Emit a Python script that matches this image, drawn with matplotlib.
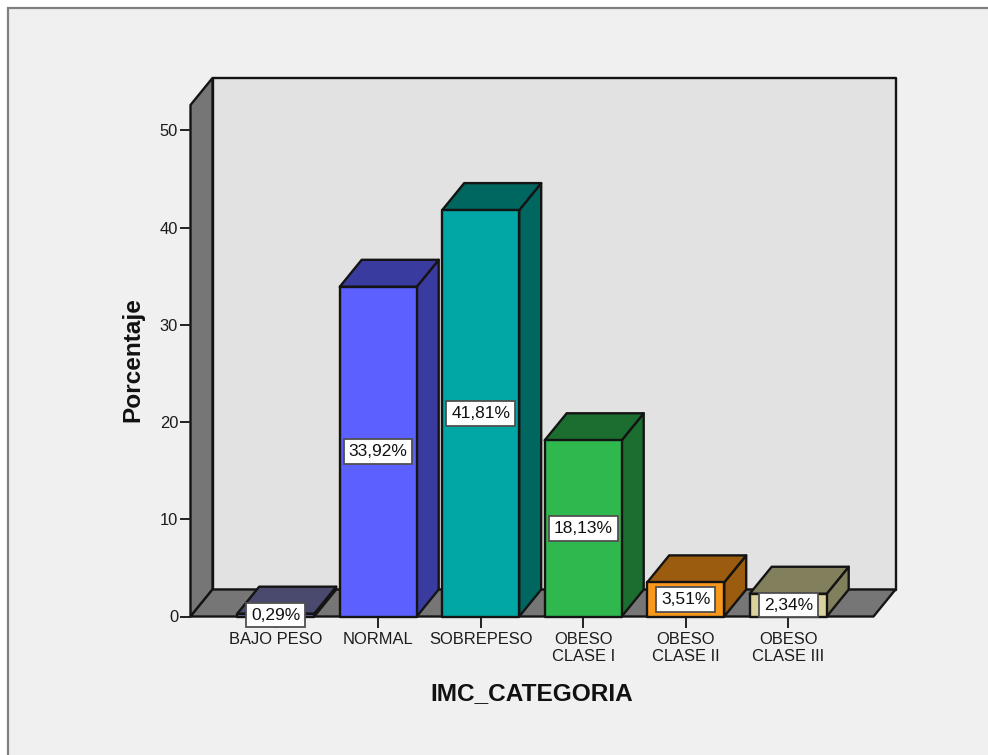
import matplotlib
matplotlib.use("Agg")
import matplotlib.pyplot as plt
from matplotlib.patches import Polygon, Rectangle

plt.rcParams["font.family"] = ["Liberation Sans", "DejaVu Sans"]

categories = ["BAJO PESO", "NORMAL", "SOBREPESO", "OBESO\nCLASE I", "OBESO\nCLASE II", "OBESO\nCLASE III"]
percentages = [0.29, 33.92, 41.81, 18.13, 3.51, 2.34]
value_labels = ["0,29%", "33,92%", "41,81%", "18,13%", "3,51%", "2,34%"]
y_ticks = [0, 10, 20, 30, 40, 50]
front_colors = ["#7d7dc4", "#5b60ff", "#00a7a5", "#2eb84e", "#f8991c", "#d9d29c"]
shade_colors = ["#494a6e", "#3a3b9f", "#006660", "#1c6e30", "#9b5c10", "#827f5d"]

W, H = 988, 755
fig = plt.figure(figsize=(W / 100, H / 100), dpi=100, facecolor="white")

# Panel frame that runs off the right and bottom edges
fig.add_artist(Rectangle((8 / W, -0.01), 1.0, 1 - 8.5 / H + 0.01, transform=fig.transFigure,
                         facecolor="#f0f0f0", edgecolor="#808080", linewidth=1.6, zorder=-1))

left, right, floor_y, top_y = 190.5, 873.5, 616.5, 105
ax = fig.add_axes([left / W, (H - floor_y) / H, (right - left) / W, (floor_y - top_y) / H])
ax.patch.set_visible(False)

step = 102.5
first = 275.7
unit = 9.72
x0 = (left - first) / step
x1 = (right - first) / step
y_top = (floor_y - top_y) / unit
ax.set_xlim(x0, x1)
ax.set_ylim(0, y_top)

depth_x = 22 / step
depth_y = 27 / unit
edge = "#141414"
lw = 1.7


def face(points, color, z):
    ax.add_patch(Polygon(points, closed=True, facecolor=color, edgecolor=edge,
                         linewidth=lw, joinstyle="round", clip_on=False, zorder=z))


# Back wall, side wall and floor of the box
face([(x0 + depth_x, depth_y), (x1 + depth_x, depth_y),
      (x1 + depth_x, y_top + depth_y), (x0 + depth_x, y_top + depth_y)], "#e2e2e2", 1)
face([(x0, 0), (x0, y_top), (x0 + depth_x, y_top + depth_y), (x0 + depth_x, depth_y)], "#767676", 1)
face([(x0, 0), (x1, 0), (x1 + depth_x, depth_y), (x0 + depth_x, depth_y)], "#767676", 1)

# Bars with their top and side faces
half = 38.5 / step
for i, (value, front, shade) in enumerate(zip(percentages, front_colors, shade_colors)):
    z = 2 + i * 0.1
    face([(i + half, 0), (i + half + depth_x, depth_y),
          (i + half + depth_x, value + depth_y), (i + half, value)], shade, z)
    face([(i - half, value), (i + half, value),
          (i + half + depth_x, value + depth_y), (i - half + depth_x, value + depth_y)], shade, z)
    face([(i - half, 0), (i + half, 0), (i + half, value), (i - half, value)], front, z)

# Value boxes centred on each bar's height
for i, (value, text) in enumerate(zip(percentages, value_labels)):
    ax.text(i, value / 2, text, ha="center", va="center", fontsize=12.5, color="#111111", zorder=5,
            clip_on=False,
            bbox=dict(boxstyle="square,pad=0.28", facecolor="white", edgecolor="#505050", linewidth=1.3))

for side in ax.spines:
    ax.spines[side].set_visible(False)

ax.set_xticks(range(len(categories)), categories, linespacing=1.2)
ax.set_yticks(y_ticks)
ax.tick_params(axis="x", length=8, width=1.4, color="#222222", labelsize=11.9, labelcolor="#1c1c1c", pad=3)
ax.tick_params(axis="y", length=8, width=1.4, color="#222222", labelsize=11.9, labelcolor="#1c1c1c", pad=1)

ax.set_xlabel("IMC_CATEGORIA", fontsize=17.6, fontweight="bold", color="#111111", va="center")
ax.set_ylabel("Porcentaje", fontsize=17.6, fontweight="bold", color="#111111", va="center")
ax.xaxis.set_label_coords((532 - left) / (right - left), (floor_y - 694) / (floor_y - top_y))
ax.yaxis.set_label_coords((133 - left) / (right - left), (floor_y - 360) / (floor_y - top_y))

fig.savefig("out.png", dpi=100, facecolor=fig.get_facecolor())
